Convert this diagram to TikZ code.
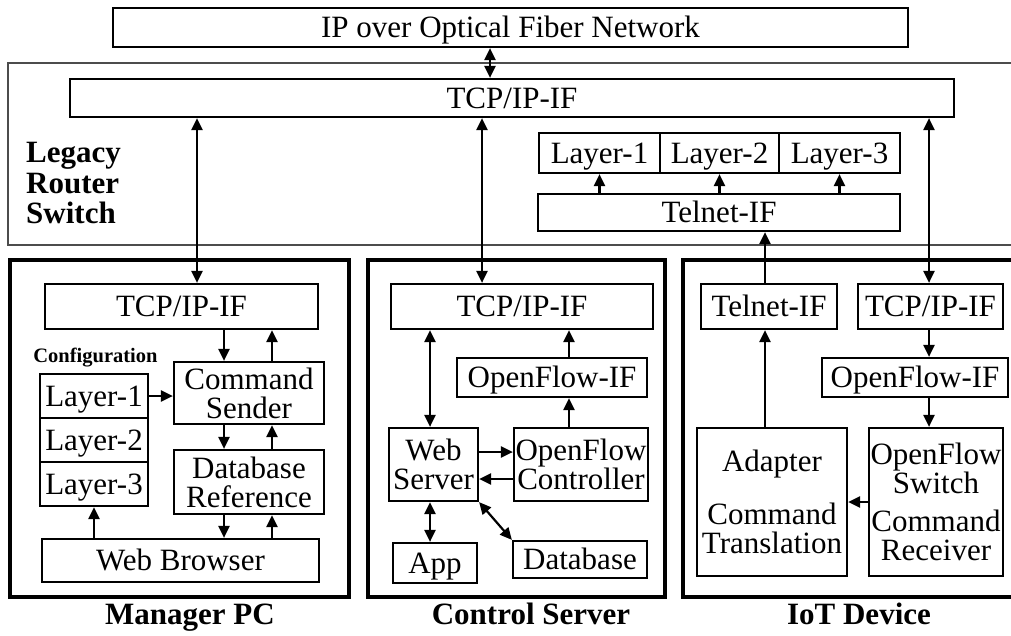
\documentclass[tikz,border=0pt]{standalone}
\usepackage{fontspec}
\setmainfont{Liberation Serif}
\usetikzlibrary{arrows.meta}
\begin{document}
\begin{tikzpicture}[x=1pt,y=-1pt,
  box/.style={draw, line width=2.2pt, inner sep=0pt, rectangle, align=center,
              font=\fontsize{31}{29}\selectfont},
  one/.style={text height=20.5pt, text depth=0pt},
  frame/.style={draw, line width=4pt},
  arr/.style={line width=2.2pt, -{Triangle[length=12pt,width=11pt]}},
  darr/.style={line width=2.2pt, {Triangle[length=12pt,width=11pt]}-{Triangle[length=12pt,width=11pt]}},
  title/.style={font=\bfseries\fontsize{31}{30.5}\selectfont, inner sep=0pt},
]
\useasboundingbox (0,0) rectangle (1011,635);
\clip (0,0) rectangle (1011,635);

% ---- network and legacy router/switch ----
\node[box, one, minimum width=795pt, minimum height=39pt] (net) at (510.5,27.5) {IP over Optical Fiber Network};
\draw[line width=1.2pt, black!70] (8,63) rectangle (1040,245);
\node[box, one, minimum width=884pt, minimum height=38pt] (tcpbig) at (512,98) {TCP/IP-IF};
\node[box, one, minimum width=121pt, minimum height=40pt] (L1) at (599.5,153) {Layer-1};
\node[box, one, minimum width=119pt, minimum height=40pt] (L2) at (719.5,153) {Layer-2};
\node[box, one, minimum width=121pt, minimum height=40pt] (L3) at (839.5,153) {Layer-3};
\node[box, one, minimum width=362pt, minimum height=37pt] (telnetL) at (719,212.5) {Telnet-IF};
\node[title, anchor=west, align=left] (lleg) at (26,183) {Legacy\\Router\\Switch};

% ---- device frames ----
\draw[frame] (10,260) rectangle (349,597);
\draw[frame] (368,260) rectangle (665,597);
\draw[frame] (683,260) rectangle (1040,597);
\node[title, anchor=base] (lmgr) at (190,624) {Manager PC};
\node[title, anchor=base] (lsrv) at (531,624) {Control Server};
\node[title, anchor=base] (liot) at (859,624) {IoT Device};

% ---- Manager PC ----
\node[box, one, minimum width=273pt, minimum height=45pt] (mtcp) at (181.5,306.5) {TCP/IP-IF};
\node[font=\bfseries\fontsize{20.5}{22}\selectfont, inner sep=0pt] (lcfg) at (95.5,358) {Configuration};
\node[box, one, minimum width=108pt, minimum height=44pt] (mL1) at (94,396) {Layer-1};
\node[box, one, minimum width=108pt, minimum height=44pt] (mL2) at (94,440) {Layer-2};
\node[box, one, minimum width=108pt, minimum height=44pt] (mL3) at (94,484) {Layer-3};
\node[box, minimum width=150pt, minimum height=62pt] (mcs) at (249,393) {Command\\Sender};
\node[box, minimum width=150pt, minimum height=64pt] (mdb) at (249,482) {Database\\Reference};
\node[box, one, minimum width=277pt, minimum height=43pt] (mwb) at (180.5,560.5) {Web Browser};

% ---- Control Server ----
\node[box, one, minimum width=262pt, minimum height=45pt] (ctcp) at (522,306.5) {TCP/IP-IF};
\node[box, one, minimum width=190pt, minimum height=39pt] (cofif) at (552,377.5) {OpenFlow-IF};
\node[box, minimum width=89pt, minimum height=73pt] (cws) at (433.5,464.5) {Web\\Server};
\node[box, minimum width=134pt, minimum height=73pt] (cofc) at (581,464.5) {OpenFlow\\Controller};
\node[box, one, minimum width=84pt, minimum height=40pt] (capp) at (435,563) {App};
\node[box, one, minimum width=134pt, minimum height=37pt] (cdb) at (580,559.5) {Database};

% ---- IoT Device ----
\node[box, one, minimum width=136pt, minimum height=45pt] (itel) at (769,306.5) {Telnet-IF};
\node[box, one, minimum width=145pt, minimum height=45pt] (itcp) at (930.5,306.5) {TCP/IP-IF};
\node[box, one, minimum width=186pt, minimum height=39pt] (iofif) at (915,377.5) {OpenFlow-IF};
\node[box, minimum width=150pt, minimum height=148pt] (iad) at (772,502) {Adapter\\[24pt]Command\\Translation};
\node[box, minimum width=134pt, minimum height=148pt] (iofs) at (936,502) {OpenFlow\\Switch\\[9pt]Command\\Receiver};

% ---- connector positions ----
\coordinate (xn) at (490,0);
\coordinate (xm) at (197,0);
\coordinate (xc) at (482,0);
\coordinate (xi) at (929,0);
\coordinate (xt) at (765,0);
\coordinate (xa) at (224,0);
\coordinate (xb) at (272,0);
\coordinate (xw) at (430,0);
\coordinate (xo) at (569,0);
\coordinate (ya) at (0,452);
\coordinate (yb) at (0,479);

% ---- connectors: network / legacy ----
\draw[darr] (net.south -| xn) -- (tcpbig.north -| xn);
\draw[arr] (telnetL.north -| L1) -- (L1.south);
\draw[arr] (telnetL.north -| L2) -- (L2.south);
\draw[arr] (telnetL.north -| L3) -- (L3.south);
\draw[darr] (tcpbig.south -| xm) -- (mtcp.north -| xm);
\draw[darr] (tcpbig.south -| xc) -- (ctcp.north -| xc);
\draw[darr] (tcpbig.south -| xi) -- (itcp.north -| xi);
\draw[arr] (itel.north -| xt) -- (telnetL.south -| xt);

% ---- connectors: Manager PC ----
\draw[arr] (mtcp.south -| xa) -- (mcs.north -| xa);
\draw[arr] (mcs.north -| xb) -- (mtcp.south -| xb);
\draw[arr] (mcs.south -| xa) -- (mdb.north -| xa);
\draw[arr] (mdb.north -| xb) -- (mcs.south -| xb);
\draw[arr] (mdb.south -| xa) -- (mwb.north -| xa);
\draw[arr] (mwb.north -| xb) -- (mdb.south -| xb);
\draw[arr] (mwb.north -| mL3) -- (mL3.south);
\draw[arr] (mL1.east) -- (mL1.east -| mcs.west);

% ---- connectors: Control Server ----
\draw[darr] (ctcp.south -| xw) -- (cws.north -| xw);
\draw[arr] (cofif.north -| xo) -- (ctcp.south -| xo);
\draw[arr] (cofc.north -| xo) -- (cofif.south -| xo);
\draw[arr] (cws.east |- ya) -- (cofc.west |- ya);
\draw[arr] (cofc.west |- yb) -- (cws.east |- yb);
\draw[darr] (cws.south -| xw) -- (capp.north -| xw);
\draw[darr] (cws.south east) -- (cdb.north west);

% ---- connectors: IoT Device ----
\draw[arr] (iad.north -| xt) -- (itel.south -| xt);
\draw[arr] (itcp.south -| xi) -- (iofif.north -| xi);
\draw[arr] (iofif.south -| xi) -- (iofs.north -| xi);
\draw[arr] (iofs.west) -- (iad.east);
\end{tikzpicture}
\end{document}
